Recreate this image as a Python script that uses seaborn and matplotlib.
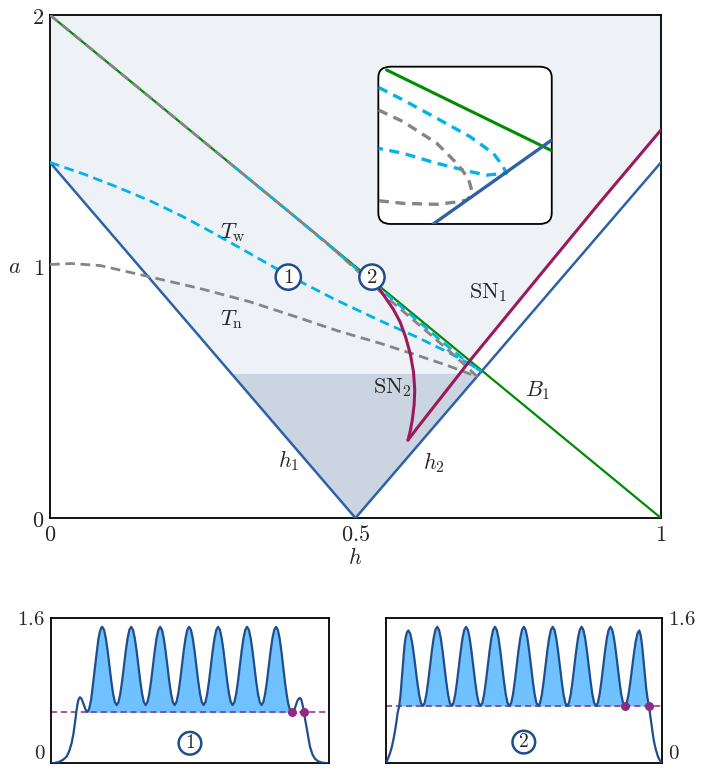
import matplotlib
matplotlib.use("Agg")
import matplotlib.pyplot as plt
from matplotlib.patches import FancyBboxPatch
import seaborn as sns

# ---------------- main (h, a) diagram ----------------
b1_h = [0.0, 1.0]
b1_a = [2.0, 0.0]
h1_h = [0.0, 0.5]
h1_a = [1.414, 0.0]
h2_h = [0.5, 1.0]
h2_a = [0.0, 1.414]

sn1_h = [0.586, 0.600, 0.687, 0.800, 0.900, 1.0]
sn1_a = [0.31, 0.355, 0.625, 0.960, 1.255, 1.543]
sn2_h = [0.527, 0.535, 0.548, 0.562, 0.573, 0.582, 0.590, 0.595, 0.597, 0.596, 0.593, 0.590, 0.586]
sn2_a = [0.958, 0.925, 0.880, 0.830, 0.780, 0.720, 0.650, 0.580, 0.510, 0.450, 0.390, 0.350, 0.310]

tw_low_h = [0.0, 0.055, 0.109, 0.165, 0.218, 0.27, 0.327, 0.39, 0.464, 0.54, 0.60, 0.655, 0.685, 0.706]
tw_low_a = [1.414, 1.368, 1.317, 1.26, 1.198, 1.13, 1.052, 0.965, 0.872, 0.785, 0.72, 0.655, 0.615, 0.583]
tw_up_h = [0.30, 0.40, 0.50, 0.58, 0.64, 0.68, 0.70, 0.706]
tw_up_a = [1.40, 1.20, 0.995, 0.83, 0.705, 0.625, 0.592, 0.583]

tn_low_h = [0.0, 0.035, 0.082, 0.158, 0.245, 0.327, 0.409, 0.47, 0.54, 0.60, 0.65, 0.699]
tn_low_a = [1.008, 1.012, 1.004, 0.962, 0.913, 0.86, 0.795, 0.745, 0.695, 0.648, 0.607, 0.562]
tn_up_h = [0.0, 0.45, 0.55, 0.62, 0.66, 0.685, 0.699]
tn_up_a = [2.0, 1.10, 0.88, 0.735, 0.65, 0.595, 0.562]

light_h = [0.0, 1.0, 1.0, 0.900, 0.800, 0.690, 0.7071, 0.7026, 0.297, 0.0]
light_a = [2.0, 2.0, 1.543, 1.255, 0.960, 0.62, 0.586, 0.573, 0.573, 1.414]
dark_h = [0.297, 0.7026, 0.5]
dark_a = [0.573, 0.573, 0.0]

marks_h = [0.39, 0.527]
marks_a = [0.958, 0.958]
marks_txt = ["1", "2"]

# ---------------- inset (box coordinates) ----------------
ins_green_x = [0.048, 1.0]
ins_green_y = [0.979, 0.466]
ins_blue_x = [0.317, 1.0]
ins_blue_y = [0.0, 0.534]
ins_tw_x = [0.0, 0.144, 0.337, 0.529, 0.663, 0.721, 0.737, 0.625, 0.529, 0.337, 0.144, 0.0]
ins_tw_y = [0.869, 0.788, 0.672, 0.555, 0.449, 0.364, 0.322, 0.311, 0.333, 0.386, 0.449, 0.481]
ins_tn_x = [0.0, 0.144, 0.337, 0.452, 0.519, 0.538, 0.529, 0.510, 0.471, 0.337, 0.144, 0.0]
ins_tn_y = [0.725, 0.650, 0.513, 0.386, 0.290, 0.216, 0.174, 0.153, 0.142, 0.125, 0.131, 0.148]

# ---------------- profile 1 ----------------
p1_x = [0.000, 0.015, 0.030, 0.045, 0.057, 0.066, 0.075, 0.082, 0.087,
        0.093, 0.096, 0.099, 0.102, 0.105, 0.108, 0.111, 0.114, 0.117, 0.1205, 0.124, 0.1275,
        0.131, 0.1345, 0.138, 0.1415, 0.145, 0.148, 0.151, 0.1545, 0.158, 0.1615, 0.165, 0.168,
        0.171, 0.1745, 0.178, 0.1815,
        0.185, 0.1915, 0.198, 0.2045, 0.211, 0.2175, 0.224, 0.2305, 0.237, 0.2435, 0.250, 0.2565, 0.263, 0.2695, 0.276, 0.2825,
        0.289, 0.2955, 0.302, 0.3085, 0.315, 0.3215, 0.328, 0.3345, 0.341, 0.3475, 0.354, 0.3605, 0.367, 0.3735, 0.380, 0.3865,
        0.393, 0.3995, 0.406, 0.4125, 0.419, 0.4255, 0.432, 0.4385, 0.445, 0.4515, 0.458, 0.4645, 0.471, 0.4775, 0.484, 0.4905,
        0.497, 0.5035, 0.510, 0.5165, 0.523, 0.5295, 0.536, 0.5425, 0.549, 0.5555, 0.562, 0.5685, 0.575, 0.5815, 0.588, 0.5945,
        0.601, 0.6075, 0.614, 0.6205, 0.627, 0.6335, 0.640, 0.6465, 0.653, 0.6595, 0.666, 0.6725, 0.679, 0.6855, 0.692, 0.6985,
        0.705, 0.7115, 0.718, 0.7245, 0.731, 0.7375, 0.744, 0.7505, 0.757, 0.7635, 0.770, 0.7765, 0.783, 0.7895, 0.796, 0.8025,
        0.809, 0.8155, 0.822, 0.8285, 0.835, 0.8415, 0.848, 0.853, 0.858, 0.863,
        0.868, 0.873, 0.877, 0.882, 0.886, 0.891, 0.895, 0.899, 0.902, 0.906, 0.909,
        0.914, 0.919, 0.925, 0.931, 0.940, 0.949, 0.960, 0.973, 0.990, 1.000]
p1_y = [0.000, 0.004, 0.015, 0.040, 0.073, 0.130, 0.220, 0.330, 0.440,
        0.586, 0.645, 0.690, 0.715, 0.725, 0.720, 0.705, 0.685, 0.660, 0.630, 0.600, 0.578,
        0.565, 0.573, 0.600, 0.645, 0.700, 0.770, 0.850, 0.940, 1.030, 1.120, 1.210, 1.290,
        1.360, 1.420, 1.460, 1.490,
        1.50, 1.467, 1.374, 1.235, 1.07, 0.905, 0.766, 0.673, 0.64, 0.673, 0.766, 0.905, 1.07, 1.235, 1.374, 1.467,
        1.50, 1.467, 1.374, 1.235, 1.07, 0.905, 0.766, 0.673, 0.64, 0.673, 0.766, 0.905, 1.07, 1.235, 1.374, 1.467,
        1.50, 1.467, 1.374, 1.235, 1.07, 0.905, 0.766, 0.673, 0.64, 0.673, 0.766, 0.905, 1.07, 1.235, 1.374, 1.467,
        1.50, 1.467, 1.374, 1.235, 1.07, 0.905, 0.766, 0.673, 0.64, 0.673, 0.766, 0.905, 1.07, 1.235, 1.374, 1.467,
        1.50, 1.467, 1.374, 1.235, 1.07, 0.905, 0.766, 0.673, 0.64, 0.673, 0.766, 0.905, 1.07, 1.235, 1.374, 1.467,
        1.50, 1.467, 1.374, 1.235, 1.07, 0.905, 0.766, 0.673, 0.64, 0.673, 0.766, 0.905, 1.07, 1.235, 1.374, 1.467,
        1.50, 1.467, 1.370, 1.225, 1.050, 0.880, 0.740, 0.650, 0.595, 0.568,
        0.560, 0.575, 0.610, 0.655, 0.690, 0.712, 0.718, 0.705, 0.670, 0.615, 0.560,
        0.470, 0.390, 0.280, 0.180, 0.095, 0.050, 0.022, 0.008, 0.002, 0.000]
p1_level = 0.56
p1_fill = (0.131, 0.868)
p1_dots_x = [0.868, 0.909]

# ---------------- profile 2 ----------------
p2_x = [0.000, 0.005, 0.010, 0.016, 0.022, 0.028, 0.034, 0.039, 0.043, 0.049, 0.054, 0.058,
        0.063, 0.068, 0.072, 0.077,
        0.0820, 0.0885, 0.0951, 0.1016, 0.1081, 0.1147, 0.1212, 0.1277, 0.1343, 0.1408, 0.1473, 0.1538, 0.1604, 0.1669, 0.1734, 0.1800,
        0.1865, 0.1930, 0.1996, 0.2061, 0.2126, 0.2192, 0.2257, 0.2322, 0.2388, 0.2453, 0.2518, 0.2583, 0.2649, 0.2714, 0.2779, 0.2845,
        0.2910, 0.2975, 0.3041, 0.3106, 0.3171, 0.3237, 0.3302, 0.3367, 0.3433, 0.3498, 0.3563, 0.3628, 0.3694, 0.3759, 0.3824, 0.3890,
        0.3955, 0.4020, 0.4086, 0.4151, 0.4216, 0.4282, 0.4347, 0.4412, 0.4478, 0.4543, 0.4608, 0.4673, 0.4739, 0.4804, 0.4869, 0.4935,
        0.5000, 0.5065, 0.5131, 0.5196, 0.5261, 0.5327, 0.5392, 0.5457, 0.5523, 0.5588, 0.5653, 0.5718, 0.5784, 0.5849, 0.5914, 0.5980,
        0.6045, 0.6110, 0.6176, 0.6241, 0.6306, 0.6372, 0.6437, 0.6502, 0.6568, 0.6633, 0.6698, 0.6763, 0.6829, 0.6894, 0.6959, 0.7025,
        0.7090, 0.7155, 0.7221, 0.7286, 0.7351, 0.7417, 0.7482, 0.7547, 0.7613, 0.7678, 0.7743, 0.7808, 0.7874, 0.7939, 0.8004, 0.8070,
        0.8135, 0.8200, 0.8266, 0.8331, 0.8396, 0.8462, 0.8527, 0.8592, 0.8658, 0.8723, 0.8788, 0.8853, 0.8919, 0.8984, 0.9049, 0.9115,
        0.918, 0.923, 0.928, 0.933, 0.938, 0.943, 0.948, 0.953, 0.957, 0.961, 0.966, 0.970, 0.974, 0.978,
        0.982, 0.986, 0.991, 0.995, 1.000]
p2_y = [0.000, 0.025, 0.066, 0.115, 0.177, 0.260, 0.360, 0.460, 0.550, 0.630, 0.760, 0.920,
        1.110, 1.290, 1.380, 1.440,
        1.46, 1.428, 1.338, 1.204, 1.045, 0.886, 0.752, 0.662, 0.63, 0.663, 0.757, 0.899, 1.065, 1.231, 1.373, 1.467,
        1.50, 1.467, 1.373, 1.231, 1.065, 0.899, 0.757, 0.663, 0.63, 0.663, 0.757, 0.899, 1.065, 1.231, 1.373, 1.467,
        1.50, 1.467, 1.373, 1.231, 1.065, 0.899, 0.757, 0.663, 0.63, 0.663, 0.757, 0.899, 1.065, 1.231, 1.373, 1.467,
        1.50, 1.467, 1.373, 1.231, 1.065, 0.899, 0.757, 0.663, 0.63, 0.663, 0.757, 0.899, 1.065, 1.231, 1.373, 1.467,
        1.50, 1.467, 1.373, 1.231, 1.065, 0.899, 0.757, 0.663, 0.63, 0.663, 0.757, 0.899, 1.065, 1.231, 1.373, 1.467,
        1.50, 1.467, 1.373, 1.231, 1.065, 0.899, 0.757, 0.663, 0.63, 0.663, 0.757, 0.899, 1.065, 1.231, 1.373, 1.467,
        1.50, 1.467, 1.373, 1.231, 1.065, 0.899, 0.757, 0.663, 0.63, 0.663, 0.757, 0.899, 1.065, 1.231, 1.373, 1.467,
        1.50, 1.467, 1.373, 1.231, 1.065, 0.899, 0.757, 0.663, 0.63, 0.662, 0.752, 0.886, 1.045, 1.204, 1.338, 1.428,
        1.46, 1.41, 1.30, 1.14, 0.97, 0.82, 0.71, 0.63, 0.54, 0.45, 0.34, 0.26, 0.20, 0.15,
        0.11, 0.07, 0.04, 0.018, 0.000]
p2_level = 0.63
p2_fill = (0.049, 0.953)
p2_dots_x = [0.8658, 0.953]

GREEN = "#008c00"
BLUE = "#2e62a8"
MAROON = "#9c1a5c"
CYAN = "#00b4e8"
GRAY = "#858585"
NAVY = "#1f4e8c"
LIGHT = "#eef2f7"
DARK = "#cbd5e2"
FILLB = "#70c1ff"
PURPLE = "#8e2a86"

sns.set_theme(style="white")
plt.rcParams["mathtext.fontset"] = "cm"
plt.rcParams["font.family"] = ["DejaVu Serif"]


def draw(ax, xs, ys, color, lw, dashes=None, z=3, clip=None):
    sns.lineplot(x=xs, y=ys, ax=ax, sort=False, estimator=None, color=color,
                 linewidth=lw, zorder=z)
    ln = ax.lines[-1]
    if dashes is not None:
        ln.set_dashes(dashes)
        ln.set_dash_capstyle("butt")
    if clip is not None:
        ln.set_clip_path(clip)
    return ln


fig = plt.figure(figsize=(7.01, 7.71), dpi=100)
ax = fig.add_axes([0.0713, 0.3281, 0.8716, 0.6524])

ax.fill(light_h, light_a, color=LIGHT, lw=0, zorder=0)
ax.fill(dark_h, dark_a, color=DARK, lw=0, zorder=0)

draw(ax, b1_h, b1_a, GREEN, 1.6)
draw(ax, h1_h, h1_a, BLUE, 1.8)
draw(ax, h2_h, h2_a, BLUE, 1.8)
draw(ax, tw_low_h, tw_low_a, CYAN, 2.0, dashes=[3.5, 2])
draw(ax, tw_up_h, tw_up_a, CYAN, 2.0, dashes=[3.5, 2])
draw(ax, tn_low_h, tn_low_a, GRAY, 2.0, dashes=[3.5, 2])
draw(ax, tn_up_h, tn_up_a, GRAY, 2.0, dashes=[3.5, 2])
draw(ax, sn1_h, sn1_a, MAROON, 2.2, z=4)
draw(ax, sn2_h, sn2_a, MAROON, 2.2, z=4)

for hx, ay, t in zip(marks_h, marks_a, marks_txt):
    ax.text(hx, ay, "$" + t + "$", ha="center", va="center", fontsize=15, zorder=6,
            bbox=dict(boxstyle="circle,pad=0.15", fc="white", ec=NAVY, lw=1.8))

ax.text(0.30, 1.133, r"$T_\mathrm{w}$", fontsize=16, ha="center", va="center")
ax.text(0.298, 0.787, r"$T_\mathrm{n}$", fontsize=16, ha="center", va="center")
ax.text(0.717, 0.895, r"$\mathrm{SN}_1$", fontsize=16, ha="center", va="center")
ax.text(0.56, 0.517, r"$\mathrm{SN}_2$", fontsize=16, ha="center", va="center")
ax.text(0.799, 0.505, r"$B_1$", fontsize=16, ha="center", va="center")
ax.text(0.39, 0.227, r"$h_1$", fontsize=16, ha="center", va="center")
ax.text(0.628, 0.219, r"$h_2$", fontsize=16, ha="center", va="center")

ax.set_xlim(0, 1)
ax.set_ylim(0, 2)
ax.set_xticks([0, 0.5, 1])
ax.set_xticklabels(["$0$", "$0.5$", "$1$"], fontsize=16)
ax.set_yticks([0, 1, 2])
ax.set_yticklabels(["$0$", "$1$", "$2$"], fontsize=16)
ax.tick_params(length=0, pad=4)
ax.set_xlabel("")
ax.set_ylabel("")
ax.text(-0.058, 1.0, "$a$", transform=ax.get_yaxis_transform(), fontsize=16,
        ha="center", va="center")
ax.text(0.5, -0.08, "$h$", transform=ax.transAxes, fontsize=16, ha="center", va="center")
for s in ax.spines.values():
    s.set_color("black")
    s.set_linewidth(1.3)

# inset
ins = fig.add_axes([0.5397, 0.7095, 0.2474, 0.2040])
ins.set_xlim(0, 1)
ins.set_ylim(0, 1)
ins.axis("off")
box = FancyBboxPatch((0, 0), 1, 1, boxstyle="round,pad=0,rounding_size=0.07",
                     transform=ins.transAxes, fc="white", ec="black", lw=1.3,
                     clip_on=False, zorder=1)
ins.add_patch(box)
draw(ins, ins_green_x, ins_green_y, GREEN, 2.2, clip=box)
draw(ins, ins_tw_x, ins_tw_y, CYAN, 2.4, dashes=[3, 2], clip=box)
draw(ins, ins_tn_x, ins_tn_y, GRAY, 2.4, dashes=[3, 2], clip=box)
draw(ins, ins_blue_x, ins_blue_y, BLUE, 2.4, clip=box)
ins.set_xlabel("")
ins.set_ylabel("")

# profiles
panels = [
    ([0.0723, 0.0100, 0.3974, 0.1888], p1_x, p1_y, p1_level, p1_fill, p1_dots_x, "1", "left", 0.22),
    ([0.5502, 0.0100, 0.3941, 0.1888], p2_x, p2_y, p2_level, p2_fill, p2_dots_x, "2", "right", 0.233),
]
for rect, px, py, lev, (f0, f1), dots, tag, side, ty in panels:
    bx = fig.add_axes(rect)
    bx.axhline(lev, color=PURPLE, lw=1.1, dashes=[4, 2.5], zorder=2)
    sel = [f0 <= x <= f1 and y >= lev for x, y in zip(px, py)]
    bx.fill_between(px, lev, py, where=sel, color=FILLB, lw=0, interpolate=True, zorder=1)
    draw(bx, px, py, NAVY, 1.6)
    bx.scatter(dots, [lev] * len(dots), s=42, color=PURPLE, zorder=5, lw=0)
    bx.text(0.5, ty, "$" + tag + "$", ha="center", va="center", fontsize=14,
            bbox=dict(boxstyle="circle,pad=0.12", fc="white", ec=NAVY, lw=1.8))
    bx.set_xlim(0, 1)
    bx.set_ylim(0, 1.6)
    bx.set_xticks([])
    bx.set_yticks([0, 1.6])
    bx.set_yticklabels(["$0$", "$1.6$"], fontsize=15)
    if side == "right":
        bx.yaxis.tick_right()
    bx.tick_params(length=0, pad=4)
    # keep the bottom "0" inside the figure
    bx.get_yticklabels()[0].set_va("bottom")
    bx.set_xlabel("")
    bx.set_ylabel("")
    for s in bx.spines.values():
        s.set_color("black")
        s.set_linewidth(1.3)

fig.savefig("out.png", dpi=100)
